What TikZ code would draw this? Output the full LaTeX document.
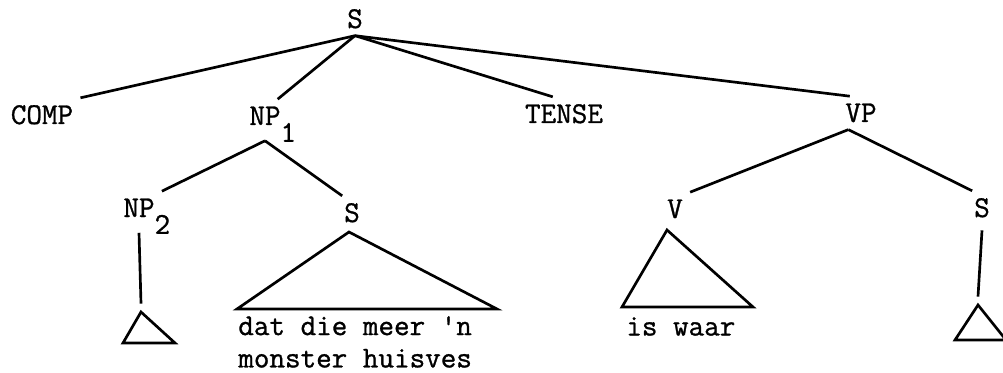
\documentclass[tikz,border=0pt]{standalone}
\usepackage{fontspec}
\setmonofont[FakeBold=1]{Latin Modern Mono}
\newcommand{\lowidx}[1]{\rlap{\smash{\raisebox{-0.42cm}{#1}}}}

\begin{document}
\begin{tikzpicture}[x=0.025cm, y=-0.025cm, line width=1.9pt,
  cat/.style={font=\ttfamily\fontsize{21.5}{23.4}\selectfont, inner sep=0.15cm, anchor=base},
  words/.style={font=\ttfamily\fontsize{21.5}{23}\selectfont, inner sep=0pt, anchor=north west, align=left}]

\useasboundingbox (0,0) rectangle (1003,373);

% Categories
\node[cat] (s0)    at (355,28)  {S};
\node[cat] (comp)  at (42,124)  {COMP};
\node[cat] (np1)   at (265,125) {NP\lowidx{1}};
\node[cat] (tense) at (564,123) {TENSE};
\node[cat] (vp)    at (861,122) {VP};
\node[cat] (np2)   at (139,217) {NP\lowidx{2}};
\node[cat] (s1)    at (352,222) {S};
\node[cat] (v)     at (675,218) {V};
\node[cat] (s2)    at (982,217) {S};

% Branches
\draw (s0.south) -- (comp.north east);
\draw (s0.south) -- ([xshift=9pt]np1.north);
\draw (s0.south) -- ([xshift=-8pt]tense.north);
\draw (s0.south) -- ([xshift=-8pt]vp.north);
\draw ([yshift=-6pt]np1.south) -- (np2.north east);
\draw ([yshift=-6pt]np1.south) -- ([xshift=-7pt]s1.north);
\draw ([xshift=-9pt]vp.south) -- (v.north east);
\draw ([xshift=-9pt]vp.south) -- ([xshift=-7pt]s2.north);

% Triangles
\coordinate (t2) at (141,312);
\coordinate (t1) at (349,232);
\coordinate (t3) at (667,230);
\coordinate (t4) at (978,305);
\draw ([yshift=-6pt]np2.south) -- ([yshift=6pt]t2);
\draw ([yshift=-4pt]s2.south) -- ([yshift=6pt]t4);
\draw (t2) -- ++(-18,31) -- ++(52,0) -- cycle;
\draw (t1) -- ++(-112,77) -- ++(260,0) -- cycle;
\draw (t3) -- ++(-45,77) -- ++(131,0) -- cycle;
\draw (t4) -- ++(-23,35) -- ++(51,0) -- cycle;

% Words
\node[words] (w1) at (237,315) {dat die meer 'n\\monster huisves};
\node[words] (w2) at (625,316) {is waar};

\end{tikzpicture}
\end{document}
